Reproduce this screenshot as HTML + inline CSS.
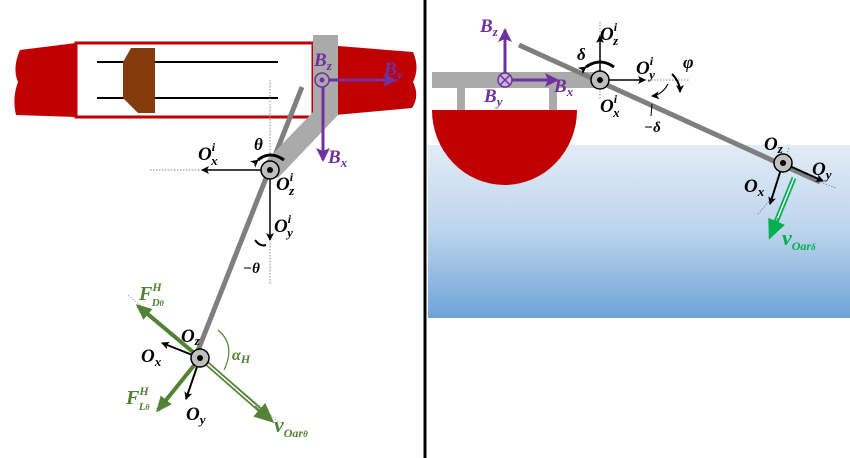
<!DOCTYPE html>
<html><head><style>
html,body{margin:0;padding:0;background:#fff}
svg{display:block}
text{font-family:"Liberation Serif",serif;font-weight:bold;font-style:italic}
</style></head><body>
<svg width="850" height="458" viewBox="0 0 850 458" xmlns="http://www.w3.org/2000/svg">
<defs>
<marker id="ab" markerWidth="8" markerHeight="8" refX="7" refY="4" orient="auto" markerUnits="userSpaceOnUse"><path d="M0,0 L8,4 L0,8 L2,4 Z" fill="#000"/></marker>
<marker id="ap" markerWidth="14" markerHeight="14" refX="12" refY="7" orient="auto" markerUnits="userSpaceOnUse"><path d="M0,0 L14,7 L0,14 L3,7 Z" fill="#7030a0"/></marker>
<marker id="ag" markerWidth="16" markerHeight="16" refX="13" refY="8" orient="auto" markerUnits="userSpaceOnUse"><path d="M0,1 L16,8 L0,15 Z" fill="#548235"/></marker>
<marker id="ag2" markerWidth="20" markerHeight="20" refX="17" refY="10" orient="auto" markerUnits="userSpaceOnUse"><path d="M0,1 L20,10 L0,19 Z" fill="#548235"/></marker>
<marker id="agr" markerWidth="20" markerHeight="20" refX="17" refY="10" orient="auto" markerUnits="userSpaceOnUse"><path d="M0,1 L20,10 L0,19 Z" fill="#00b050"/></marker>
<linearGradient id="w" x1="0" y1="0" x2="0" y2="1"><stop offset="0" stop-color="#e2ecf6"/><stop offset="0.5" stop-color="#bcd4ec"/><stop offset="1" stop-color="#6ea3d8"/></linearGradient>
</defs>

<!-- LEFT -->
<path d="M76,43 L20,50 Q12,68 18,82 Q12,98 16,115 L76,117 Z" fill="#c00000"/>
<path d="M313,44 L413,52 Q420,68 413,82 Q420,96 412,108 L313,117 Z" fill="#c00000"/>
<rect x="76" y="43" width="237" height="74" fill="#fff" stroke="#c00000" stroke-width="3"/>
<line x1="97" y1="62" x2="278" y2="62" stroke="#000" stroke-width="2"/>
<line x1="97" y1="98" x2="278" y2="98" stroke="#000" stroke-width="2"/>
<path d="M131,48 L155,48 L155,113 L138,113 L123,98 L123,62 Z" fill="#843c0c"/>
<line x1="270" y1="80" x2="270" y2="170" stroke="#888" stroke-width="1" stroke-dasharray="1.5,1.5"/>
<line x1="302" y1="87" x2="195" y2="358" stroke="#7f7f7f" stroke-width="5"/>
<path d="M313,35 L338,35 L338,115 L278,178 L262,165 L313,112 Z" fill="#aaaaaa"/>
<line x1="150" y1="170" x2="200" y2="170" stroke="#888" stroke-width="1" stroke-dasharray="1.5,1.5"/>
<line x1="270" y1="170" x2="202" y2="170" stroke="#000" stroke-width="1.5" marker-end="url(#ab)"/>
<line x1="270" y1="170" x2="270" y2="240" stroke="#000" stroke-width="1.5" marker-end="url(#ab)"/>
<line x1="270" y1="240" x2="270" y2="285" stroke="#888" stroke-width="1" stroke-dasharray="1.5,1.5"/>
<path d="M258,160 Q270,150 284,160" fill="none" stroke="#000" stroke-width="3" marker-start="url(#ab)"/>
<path d="M255,240 Q260,247 266,245" fill="none" stroke="#000" stroke-width="2"/>
<circle cx="270" cy="170" r="9" fill="#bfbfbf" stroke="#000" stroke-width="1.5"/>
<circle cx="270" cy="170" r="3" fill="#000"/>
<text x="254" y="150" font-size="17">θ</text>
<text x="198" y="160" font-size="19">O<tspan font-size="12" dy="-9">i</tspan><tspan font-size="13" dx="-4" dy="14">x</tspan></text>
<text x="276" y="190" font-size="19">O<tspan font-size="12" dy="-9">i</tspan><tspan font-size="13" dx="-4" dy="14">z</tspan></text>
<text x="274" y="232" font-size="19">O<tspan font-size="12" dy="-9">i</tspan><tspan font-size="13" dx="-4" dy="14">y</tspan></text>
<text x="243" y="273" font-size="15" font-weight="normal">−θ</text>
<!-- B frame left -->
<circle cx="322" cy="80" r="7" fill="none" stroke="#7030a0" stroke-width="1.5"/>
<circle cx="322" cy="80" r="2.5" fill="#7030a0"/>
<line x1="329" y1="80" x2="395" y2="80" stroke="#7030a0" stroke-width="3" marker-end="url(#ap)"/>
<line x1="323" y1="87" x2="323" y2="160" stroke="#7030a0" stroke-width="3" marker-end="url(#ap)"/>
<text x="314" y="66" font-size="19" fill="#7030a0">B<tspan font-size="13" dy="4">z</tspan></text>
<text x="384" y="75" font-size="19" fill="#7030a0">B<tspan font-size="13" dy="4">y</tspan></text>
<text x="328" y="163" font-size="19" fill="#7030a0">B<tspan font-size="13" dy="4">x</tspan></text>
<!-- bottom pivot left -->
<line x1="128" y1="295" x2="280" y2="423" stroke="#aaa" stroke-width="1" stroke-dasharray="1.5,1.5"/>
<line x1="200" y1="358" x2="138" y2="306" stroke="#548235" stroke-width="4" marker-end="url(#ag)"/>
<line x1="200" y1="358" x2="158" y2="410" stroke="#548235" stroke-width="4" marker-end="url(#ag)"/>
<line x1="203" y1="360" x2="268" y2="417" stroke="#548235" stroke-width="5"/>
<line x1="203" y1="360" x2="268" y2="417" stroke="#fff" stroke-width="1.5"/>
<line x1="255" y1="406" x2="272" y2="421" stroke="#548235" stroke-width="1" marker-end="url(#ag2)"/>
<line x1="200" y1="358" x2="162" y2="343" stroke="#000" stroke-width="2" marker-end="url(#ab)"/>
<line x1="200" y1="358" x2="186" y2="399" stroke="#000" stroke-width="2" marker-end="url(#ab)"/>
<path d="M218,330 Q236,345 224,370" fill="none" stroke="#548235" stroke-width="1.2"/>
<circle cx="200" cy="358" r="9" fill="#bfbfbf" stroke="#000" stroke-width="1.5"/>
<circle cx="200" cy="358" r="3" fill="#000"/>
<text x="181" y="342" font-size="19">O<tspan font-size="13" dy="3">z</tspan></text>
<text x="141" y="362" font-size="19">O<tspan font-size="13" dy="4">x</tspan></text>
<text x="186" y="420" font-size="19">O<tspan font-size="13" dy="4">y</tspan></text>
<text x="232" y="360" font-size="16" font-weight="normal" fill="#548235">α<tspan font-size="12" dy="3">H</tspan></text>
<text x="139" y="300" font-size="20" fill="#548235">F<tspan font-size="12" dy="-9">H</tspan><tspan font-size="11" dx="-10" dy="15">D<tspan font-size="8">θ</tspan></tspan></text>
<text x="126" y="404" font-size="20" fill="#548235">F<tspan font-size="12" dy="-9">H</tspan><tspan font-size="11" dx="-10" dy="15">L<tspan font-size="8">θ</tspan></tspan></text>
<text x="274" y="432" font-size="22" fill="#548235" font-weight="normal">v<tspan font-size="12" dy="5">Oar<tspan font-size="9">θ</tspan></tspan></text>

<!-- divider -->
<rect x="423.5" y="0" width="3" height="458" fill="#000"/>

<!-- RIGHT -->
<rect x="428" y="145" width="422" height="173" fill="url(#w)"/>
<path d="M432,110 L577,110 A72.5,75 0 0 1 432,110 Z" fill="#c00000"/>
<rect x="432" y="72" width="165" height="16" fill="#aaaaaa"/>
<rect x="457" y="88" width="8" height="22" fill="#aaaaaa"/>
<rect x="549" y="88" width="8" height="22" fill="#aaaaaa"/>
<line x1="600" y1="22" x2="600" y2="100" stroke="#888" stroke-width="1" stroke-dasharray="1.5,1.5"/>
<line x1="645" y1="80" x2="690" y2="80" stroke="#888" stroke-width="1" stroke-dasharray="1.5,1.5"/>
<line x1="519" y1="45" x2="820" y2="182" stroke="#7f7f7f" stroke-width="5"/>
<line x1="600" y1="80" x2="600" y2="36" stroke="#000" stroke-width="1.5" marker-end="url(#ab)"/>
<line x1="600" y1="80" x2="645" y2="80" stroke="#000" stroke-width="1.5" marker-end="url(#ab)"/>
<path d="M586,67 Q600,57 614,67" fill="none" stroke="#000" stroke-width="3" marker-start="url(#ab)"/>
<path d="M668,84 Q662,95 652,96" fill="none" stroke="#000" stroke-width="1.2" marker-end="url(#ab)"/>
<line x1="652" y1="104" x2="651" y2="116" stroke="#000" stroke-width="1"/>
<path d="M672,74 Q680,82 680,92" fill="none" stroke="#000" stroke-width="2" marker-end="url(#ab)"/>
<circle cx="600" cy="80" r="9" fill="#bfbfbf" stroke="#000" stroke-width="1.5"/>
<circle cx="600" cy="80" r="3" fill="#000"/>
<text x="577" y="60" font-size="17">δ</text>
<text x="600" y="40" font-size="19">O<tspan font-size="12" dy="-9">i</tspan><tspan font-size="13" dx="-4" dy="14">z</tspan></text>
<text x="636" y="74" font-size="19">O<tspan font-size="12" dy="-9">i</tspan><tspan font-size="13" dx="-4" dy="14">y</tspan></text>
<text x="683" y="68" font-size="18">φ</text>
<text x="600" y="112" font-size="19">O<tspan font-size="12" dy="-9">i</tspan><tspan font-size="13" dx="-4" dy="14">x</tspan></text>
<text x="644" y="132" font-size="15" font-weight="normal">−δ</text>
<!-- B frame right -->
<line x1="505" y1="80" x2="505" y2="30" stroke="#7030a0" stroke-width="3" marker-end="url(#ap)"/>
<line x1="512" y1="80" x2="557" y2="80" stroke="#7030a0" stroke-width="3" marker-end="url(#ap)"/>
<circle cx="505" cy="80" r="7" fill="#c9b5d8" stroke="#7030a0" stroke-width="1.5"/>
<path d="M500,75 L510,85 M510,75 L500,85" stroke="#7030a0" stroke-width="1.5"/>
<text x="480" y="32" font-size="19" fill="#7030a0">B<tspan font-size="13" dy="4">z</tspan></text>
<text x="554" y="92" font-size="19" fill="#7030a0">B<tspan font-size="13" dy="4">x</tspan></text>
<text x="484" y="102" font-size="19" fill="#7030a0">B<tspan font-size="13" dy="4">y</tspan></text>
<!-- second pivot right -->
<line x1="789" y1="148" x2="785" y2="160" stroke="#888" stroke-width="1" stroke-dasharray="1.5,1.5"/>
<line x1="758" y1="214" x2="770" y2="200" stroke="#888" stroke-width="1" stroke-dasharray="1.5,1.5"/>
<line x1="820" y1="182" x2="836" y2="188" stroke="#888" stroke-width="1" stroke-dasharray="1.5,1.5"/>
<line x1="783" y1="163" x2="770" y2="204" stroke="#000" stroke-width="2" marker-end="url(#ab)"/>
<line x1="783" y1="163" x2="823" y2="181" stroke="#000" stroke-width="2" marker-end="url(#ab)"/>
<line x1="794" y1="178" x2="776" y2="222" stroke="#00b050" stroke-width="5"/>
<line x1="794" y1="178" x2="776" y2="222" stroke="#fff" stroke-width="1.5"/>
<line x1="778" y1="218" x2="770" y2="237" stroke="#00b050" stroke-width="1" marker-end="url(#agr)"/>
<circle cx="783" cy="163" r="9" fill="#bfbfbf" stroke="#000" stroke-width="1.5"/>
<circle cx="783" cy="163" r="3" fill="#000"/>
<text x="764" y="150" font-size="19">O<tspan font-size="13" dy="3">z</tspan></text>
<text x="812" y="175" font-size="19">O<tspan font-size="13" dy="4">y</tspan></text>
<text x="744" y="192" font-size="19">O<tspan font-size="13" dy="4">x</tspan></text>
<text x="782" y="245" font-size="22" fill="#00b050" font-weight="normal">v<tspan font-size="12" dy="5">Oar<tspan font-size="9">δ</tspan></tspan></text>
</svg>
</body></html>
